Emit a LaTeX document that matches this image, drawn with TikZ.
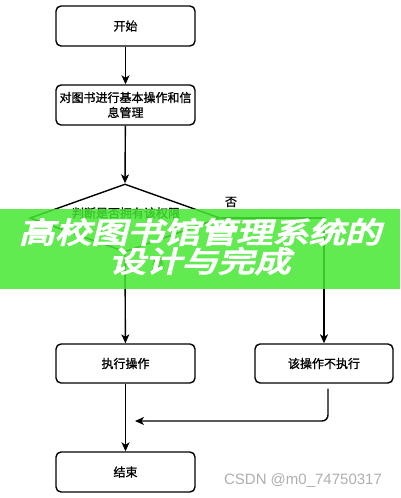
\documentclass[tikz,border=0pt]{standalone}
\usepackage{fontspec}
\setmainfont{Liberation Sans}
\newfontfamily\cjk{Noto Sans CJK SC}[FakeBold=1.2]
\newfontfamily\cjkban{Noto Sans CJK SC}[FakeBold=4.5,FakeSlant=0.2]
\usetikzlibrary{shapes.geometric,arrows.meta}
\definecolor{bannergreen}{RGB}{70,232,50}
\definecolor{wmgray}{RGB}{175,175,175}
\tikzset{
  box/.style={draw, line width=1.4pt, rounded corners=5pt, minimum width=139pt, minimum height=40pt, inner sep=1pt, font=\cjk\fontsize{12pt}{15pt}\selectfont, align=center},
  decision/.style={draw, line width=1.4pt, diamond, aspect=2.8, minimum width=190pt, minimum height=68pt, inner sep=0pt, font=\cjk\fontsize{12pt}{15pt}\selectfont},
  flow/.style={draw, line width=1.4pt, -{Stealth[length=9pt,width=8pt,inset=2.5pt]}},
  lbl/.style={font=\cjk\fontsize{12pt}{14pt}\selectfont, inner sep=0pt},
  bannertext/.style={text=white, font=\cjkban\fontsize{29pt}{32pt}\selectfont, inner sep=0pt}
}
\begin{document}
\begin{tikzpicture}[x=1pt,y=-1pt]
\useasboundingbox (0,0) rectangle (400,498);
\fill[white] (0,0) rectangle (400,498);

\node[box] (start) at (125.5,26) {开始};
\node[box] (op) at (125.5,105) {对图书进行基本操作和信\\息管理};
\node[decision] (dia) at (125,218) {};
\node[lbl] (diatext) at (126,213) {判断是否拥有该权限};
\node[box, minimum height=39pt] (exec) at (125.5,363.5) {执行操作};
\node[box, minimum width=138pt, minimum height=39pt] (no) at (324,363.5) {该操作不执行};
\node[box] (end) at (125.5,472) {结束};

\coordinate (merge) at (135,421);

\draw[flow] (start) -- (op);
\draw[flow] (op) -- (dia.north);
\draw[flow] (dia.south) -- (exec);
\draw[flow] (dia.east) -| (no.north);
\draw[flow] (exec) -- (end);
\draw[flow, rounded corners=6pt] ([xshift=4pt,yshift=-5pt]no.south) |- (merge);

\node[lbl] (yes) at (158,264) {是};
\node[lbl] (nolbl) at (231,202) {否};

% banner overlay
\fill[bannergreen, fill opacity=0.85] (0,209) rectangle (400,289);
\node[bannertext] (title1) at (200,232) {\scalebox{1.25}[1]{高校图书馆管理系统的}};
\node[bannertext] (title2) at (200,261) {\scalebox{1.25}[1]{设计与完成}};

% watermark
\node[text=wmgray, font=\fontsize{15pt}{17pt}\selectfont, inner sep=0pt] (wm) at (303,481) {CSDN @m0\_74750317};
\end{tikzpicture}
\end{document}
